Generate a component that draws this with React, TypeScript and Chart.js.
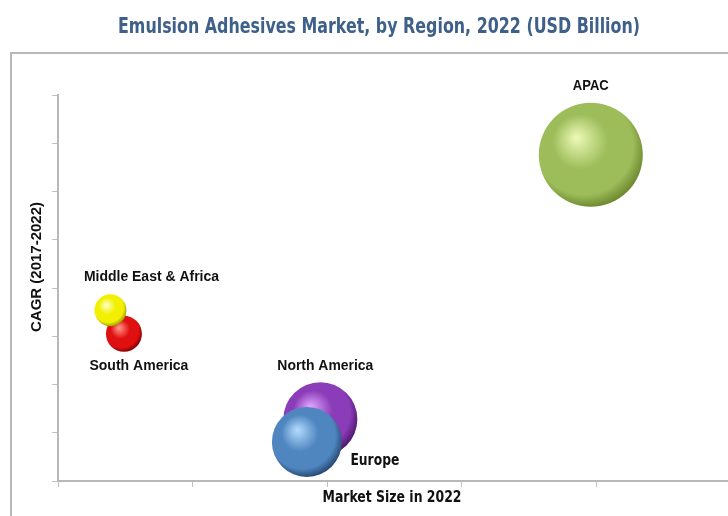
import React, { useEffect, useRef } from "react";
import { Chart, registerables } from "chart.js";

Chart.register(...registerables);

const regions = ["South America", "Middle East & Africa", "North America", "Europe", "APAC"];
const marketSize = [0.49, 0.39, 1.95, 1.85, 3.96];
const cagr = [3.05, 3.54, 1.28, 0.81, 6.76];
const bubbleSize = [18, 16, 37, 35, 52];
const xTickValues = [0, 1, 2, 3, 4];
const yTickValues = [0, 1, 2, 3, 4, 5, 6, 7, 8];

const titleText = "Emulsion Adhesives Market, by Region, 2022 (USD Billion)";
const xTitle = "Market Size in 2022";
const yTitle = "CAGR (2017-2022)";

// sphere colors: [highlight, main, dark]
const sphereColors: Record<string, string[]> = {
  "South America": ["#ff9a8a", "#e01010", "#7a0000"],
  "Middle East & Africa": ["#ffffd0", "#f2f000", "#9a9400"],
  "North America": ["#e0a8ff", "#8b3cb8", "#4a1468"],
  Europe: ["#b5dcff", "#4f86c0", "#24446c"],
  APAC: ["#eefab8", "#9dbd5a", "#6a852c"],
};

const labelFont = "bold 14px 'Liberation Sans', Arial, sans-serif";
const narrowFont = "bold 15px 'DejaVu Sans Condensed', 'Liberation Sans', sans-serif";

// label placement relative to bubble centre: [dx, dy, font, fitted width] (style only)
const labelStyle: Record<string, [number, number, string, number]> = {
  "South America": [15, 32, labelFont, 99],
  "Middle East & Africa": [41, -33, labelFont, 135],
  "North America": [5, -53, labelFont, 96],
  Europe: [68, 19, narrowFont, 49],
  APAC: [0, -69, labelFont, 36],
};

function drawFitted(ctx: any, text: string, x: number, y: number, font: string, width: number) {
  ctx.font = font;
  const w = ctx.measureText(text).width;
  const sx = width / w;
  ctx.save();
  ctx.translate(x, y);
  ctx.scale(sx, 1);
  ctx.fillText(text, 0, 0);
  ctx.restore();
}

const decorPlugin = {
  id: "decor",
  beforeDraw(chart: any) {
    const ctx = chart.ctx;
    ctx.save();
    ctx.fillStyle = "#ffffff";
    ctx.fillRect(0, 0, chart.width, chart.height);
    ctx.strokeStyle = "#b8b8b8";
    ctx.lineWidth = 2;
    ctx.beginPath();
    ctx.moveTo(11, 516);
    ctx.lineTo(11, 53);
    ctx.lineTo(728, 53);
    ctx.stroke();
    ctx.restore();
  },
  afterDraw(chart: any) {
    const ctx = chart.ctx;
    const xs = chart.scales.x;
    const ys = chart.scales.y;
    ctx.save();
    ctx.textAlign = "center";
    ctx.textBaseline = "middle";
    // title
    ctx.fillStyle = "#3e6089";
    drawFitted(ctx, titleText, 379, 27, "bold 22px 'DejaVu Sans Condensed', sans-serif", 522);
    // axis titles
    ctx.fillStyle = "#111111";
    drawFitted(ctx, xTitle, 392, 498, "bold 16px 'DejaVu Sans Condensed', sans-serif", 139);
    ctx.save();
    ctx.translate(37, 267);
    ctx.rotate(-Math.PI / 2);
    drawFitted(ctx, yTitle, 0, 0, "bold 14px 'Liberation Sans', Arial, sans-serif", 130);
    ctx.restore();
    // bubble labels
    regions.forEach((name, i) => {
      const px = xs.getPixelForValue(marketSize[i]);
      const py = ys.getPixelForValue(cagr[i]);
      const [dx, dy, font, w] = labelStyle[name];
      ctx.fillStyle = "#111111";
      drawFitted(ctx, name, px + dx, py + dy, font, w);
    });
    ctx.restore();
  },
};

export default function App() {
  const ref = useRef<HTMLCanvasElement>(null);
  useEffect(() => {
    document.body.style.margin = "0";
    const canvas = ref.current!;
    const chart = new Chart(canvas, {
      type: "bubble",
      data: {
        datasets: [
          {
            label: "Regions",
            data: regions.map((_, i) => ({ x: marketSize[i], y: cagr[i], r: bubbleSize[i] })),
            clip: false,
            borderWidth: 0,
            backgroundColor: (c: any) => {
              const ch = c.chart;
              const raw = c.raw;
              const name = regions[c.dataIndex];
              const cols = sphereColors[name];
              if (!raw || !cols || !ch.scales || !ch.scales.x || !ch.scales.y) return cols ? cols[1] : "#888";
              const cx = ch.scales.x.getPixelForValue(raw.x);
              const cy = ch.scales.y.getPixelForValue(raw.y);
              const r = raw.r;
              if (!isFinite(cx) || !isFinite(cy) || !isFinite(r)) return cols[1];
              const g = ch.ctx.createRadialGradient(
                cx - 0.28 * r, cy - 0.34 * r, 0,
                cx - 0.1 * r, cy - 0.14 * r, 1.18 * r
              );
              g.addColorStop(0, cols[0]);
              g.addColorStop(0.45, cols[1]);
              g.addColorStop(0.8, cols[1]);
              g.addColorStop(1, cols[2]);
              return g;
            },
          } as any,
        ],
      },
      options: {
        responsive: false,
        animation: false,
        events: [],
        layout: { autoPadding: false, padding: { top: 95, left: 0, right: 0, bottom: 0 } },
        plugins: {
          legend: { display: false },
          tooltip: { enabled: false },
          title: { display: false },
        },
        scales: {
          x: {
            type: "linear",
            min: 0,
            max: 4.98,
            afterBuildTicks: (s: any) => {
              s.ticks = xTickValues.map((v) => ({ value: v }));
            },
            afterFit: (s: any) => {
              s.height = 35;
            },
            ticks: { display: false },
            grid: { drawOnChartArea: false, drawTicks: true, tickLength: 6, color: "#c0c0c0", lineWidth: 1 },
            border: { display: true, color: "#b8b8b8", width: 2 },
            title: { display: false },
          },
          y: {
            type: "linear",
            min: 0,
            max: 8,
            afterBuildTicks: (s: any) => {
              s.ticks = yTickValues.map((v) => ({ value: v }));
            },
            afterFit: (s: any) => {
              s.width = 58;
            },
            ticks: { display: false },
            grid: { drawOnChartArea: false, drawTicks: true, tickLength: 6, color: "#c0c0c0", lineWidth: 1 },
            border: { display: true, color: "#b8b8b8", width: 2 },
            title: { display: false },
          },
        },
      } as any,
      plugins: [decorPlugin],
    });
    chart.update();
    return () => chart.destroy();
  }, []);
  return (
    <div style={{ width: 728, height: 516 }}>
      <canvas ref={ref} width={728} height={516} />
    </div>
  );
}
